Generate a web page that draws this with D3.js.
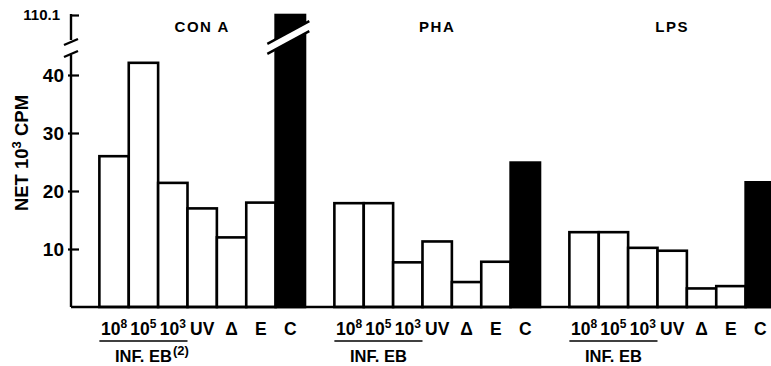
<!DOCTYPE html>
<html>
<head>
<meta charset="utf-8">
<script src="https://cdn.jsdelivr.net/npm/d3@7"></script>
<style>
body { margin: 0; background: #fff; }
text { font-family: "Liberation Sans", Arial, sans-serif; font-weight: bold; fill: #000; }
</style>
</head>
<body>
<svg id="chart"></svg>
<script>
// Data
var groups = ['CON A', 'PHA', 'LPS'];
var categories = ['10^8', '10^5', '10^3', 'UV', 'Δ', 'E', 'C'];
var conaValues = [26.0, 42.1, 21.4, 17.0, 12.0, 18.0, 110.1];
var phaValues = [17.9, 17.9, 7.7, 11.3, 4.3, 7.8, 24.9];
var lpsValues = [12.9, 12.9, 10.2, 9.7, 3.2, 3.6, 21.5];
var yTicks = [10, 20, 30, 40];
var yTopTicks = [110.1];
var infLabels = ['INF. EB', 'INF. EB', 'INF. EB'];
var infNotes = ['(2)', '', ''];

var seriesValues = [conaValues, phaValues, lpsValues];

var width = 771,
	height = 366,
	axisX = 71,
	baseY = 307;

var chart = d3.select('#chart')
	.attr('width', width)
	.attr('height', height);

// lower part of the y axis (0 - 45), upper part above the break
var yLow = d3.scaleLinear().domain([0, 40]).range([baseY, 75]);
var yHigh = d3.scaleLinear().domain([105, 110.1]).range([45, 15]);
function y(v) { return v <= 45 ? yLow(v) : yHigh(v); }

// one slot per bar, an empty slot in front of each group
var xGroup = d3.scaleBand().domain(groups).range([70, 70 + 3 * 235]);
var xInner = d3.scaleBand().domain(['gap'].concat(categories)).range([0, xGroup.bandwidth()]);
var bw = xInner.bandwidth();

// flatten into one row per bar
var data = [];
groups.forEach(function(g, i) {
	categories.forEach(function(c, j) {
		data.push({ group: g, cat: c, value: seriesValues[i][j] });
	});
});

// bars
var bars = chart.append('g').attr('id', 'bars');
bars.selectAll('.bar')
	.data(data)
	.enter().append('rect')
		.attr('class', 'bar')
		.attr('x', function(d) { return xGroup(d.group) + xInner(d.cat); })
		.attr('y', function(d) { return y(d.value); })
		.attr('width', bw)
		.attr('height', function(d) { return baseY - y(d.value); })
		.attr('fill', function(d) { return d.cat == 'C' ? '#000' : '#fff'; })
		.attr('stroke', '#000')
		.attr('stroke-width', 2.6);

// break marks on the tall bar
var tall = data.filter(function(d) { return d.value > 45; });
tall.forEach(function(d) {
	var cx = xGroup(d.group) + xInner(d.cat) + bw / 2 - 2,
		cy = 37.5,
		half = 21,
		slope = -0.54;
	var x1 = cx - half, x2 = cx + half;
	var brk = chart.append('g').attr('class', 'bar-break');
	brk.append('polygon')
		.attr('points', [
			[x1, cy - 5 - slope * half], [x2, cy - 5 + slope * half],
			[x2, cy + 5 + slope * half], [x1, cy + 5 - slope * half]
		].map(function(p) { return p.join(','); }).join(' '))
		.attr('fill', '#fff');
	[-5, 5].forEach(function(off) {
		brk.append('line')
			.attr('x1', x1).attr('y1', cy + off - slope * half)
			.attr('x2', x2).attr('y2', cy + off + slope * half)
			.attr('stroke', '#000').attr('stroke-width', 2.4);
	});
});

// baseline
chart.append('line')
	.attr('x1', axisX).attr('x2', width)
	.attr('y1', baseY).attr('y2', baseY)
	.attr('stroke', '#000').attr('stroke-width', 2.6);

// y axis, lower part
var yAxis = chart.append('g')
	.attr('id', 'y-axis')
	.attr('transform', 'translate(' + axisX + ',0)')
	.call(d3.axisLeft(yLow).tickValues(yTicks).tickSizeInner(-8).tickSizeOuter(0).tickPadding(7));
yAxis.select('.domain').remove();
yAxis.selectAll('.tick line').attr('x1', -3).attr('stroke-width', 2.2);
yAxis.selectAll('.tick text').style('font-size', '19px');
yAxis.append('line')
	.attr('x1', 0).attr('x2', 0).attr('y1', 55).attr('y2', baseY)
	.attr('stroke', '#000').attr('stroke-width', 2.4);

// y axis, upper part above the break
var yAxisTop = chart.append('g')
	.attr('id', 'y-axis-top')
	.attr('transform', 'translate(' + axisX + ',0)')
	.call(d3.axisLeft(yHigh).tickValues(yTopTicks).tickFormat(d3.format('.1f')).tickSizeInner(-8).tickSizeOuter(0).tickPadding(11));
yAxisTop.select('.domain').remove();
yAxisTop.selectAll('.tick line').attr('stroke-width', 2.2);
yAxisTop.selectAll('.tick text').style('font-size', '15px');
yAxisTop.append('line')
	.attr('x1', 0).attr('x2', 0).attr('y1', yHigh(110.1) - 1).attr('y2', 40)
	.attr('stroke', '#000').attr('stroke-width', 2.4);

// axis break slashes
[42, 54].forEach(function(cy) {
	chart.append('line')
		.attr('x1', axisX - 7).attr('y1', cy + 3)
		.attr('x2', axisX + 7).attr('y2', cy - 3)
		.attr('stroke', '#000').attr('stroke-width', 2.4);
});

// y axis title
var yTitle = chart.append('text')
	.attr('transform', 'translate(28,153) rotate(-90)')
	.attr('text-anchor', 'middle')
	.style('font-size', '18.5px');
yTitle.append('tspan').text('NET 10');
yTitle.append('tspan').attr('dy', -7).style('font-size', '13px').text('3');
yTitle.append('tspan').attr('dy', 7).text(' CPM');

// group titles
groups.forEach(function(g) {
	chart.append('text')
		.attr('x', xGroup(g) + xInner('10^8') + 3.5 * bw)
		.attr('y', 32)
		.attr('text-anchor', 'middle')
		.style('font-size', '15px')
		.style('letter-spacing', '1.5px')
		.text(g);
});

// x labels
var xLabels = chart.append('g').attr('id', 'x-labels');
data.forEach(function(d) {
	var t = xLabels.append('text')
		.attr('x', xGroup(d.group) + xInner(d.cat) + bw / 2)
		.attr('y', 335)
		.attr('text-anchor', 'middle')
		.style('font-size', '17.5px');
	var parts = d.cat.split('^');
	t.append('tspan').text(parts[0]);
	if (parts.length > 1) {
		t.append('tspan').attr('dy', -7).style('font-size', '12px').text(parts[1]);
	}
});

// INF. EB brackets under the dose bars
groups.forEach(function(g, i) {
	var x1 = xGroup(g) + xInner('10^8'),
		x2 = xGroup(g) + xInner('10^3') + bw;
	chart.append('line')
		.attr('x1', x1).attr('x2', x2)
		.attr('y1', 341).attr('y2', 341)
		.attr('stroke', '#000').attr('stroke-width', 1.6);
	var t = chart.append('text')
		.attr('x', (x1 + x2) / 2)
		.attr('y', 362)
		.attr('text-anchor', 'middle')
		.style('font-size', '16.5px')
		.text(infLabels[i]);
	if (infNotes[i]) {
		var bb = t.node().getBBox();
		chart.append('text')
			.attr('x', bb.x + bb.width + 1)
			.attr('y', 355)
			.style('font-size', '13px')
			.text(infNotes[i]);
	}
});
</script>
</body>
</html>
